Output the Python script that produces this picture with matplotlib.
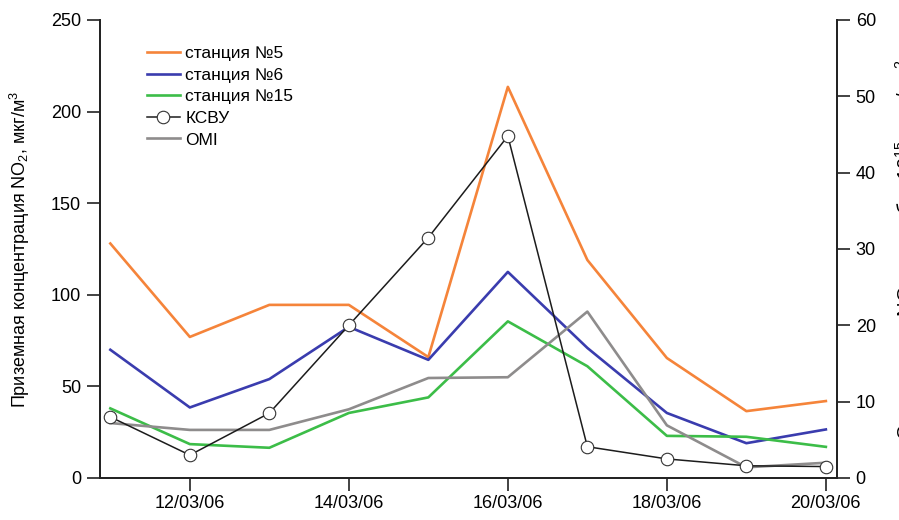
import matplotlib
matplotlib.use('Agg')
import matplotlib.pyplot as plt
from matplotlib.lines import Line2D

plt.rcParams['font.family'] = ['Liberation Sans', 'DejaVu Sans']
plt.rcParams['mathtext.fontset'] = 'custom'
plt.rcParams['mathtext.rm'] = 'Liberation Sans'
plt.rcParams['mathtext.it'] = 'Liberation Sans'

# Дни марта 2006 г.
days = [11, 12, 13, 14, 15, 16, 17, 18, 19, 20]
tick_days = [12, 14, 16, 18, 20]
tick_labels = ['12/03/06', '14/03/06', '16/03/06', '18/03/06', '20/03/06']

# Приземная концентрация NO2 (мкг/м3)
st5 = [128, 77, 94.5, 94.5, 66, 213.5, 119, 65.5, 36.5, 42]
st6 = [70, 38.5, 54, 82.5, 64.5, 112.5, 71, 35.5, 19, 26.5]
st15 = [38, 18.5, 16.5, 35.5, 44, 85.5, 61, 23, 22.5, 17]

# Содержание NO2 в столбе (10^15 мол/см2)
ksvu = [8.0, 3.0, 8.5, 20.0, 31.5, 44.8, 4.1, 2.5, 1.6, 1.5]
omi = [7.2, 6.3, 6.3, 9.0, 13.1, 13.2, 21.8, 6.9, 1.4, 2.0]

c5 = '#f5843a'
c6 = '#3a3cae'
c15 = '#3cbd48'
comi = '#8e8c8c'
cblack = '#1c1c1c'

fig = plt.figure(figsize=(8.99, 5.2), dpi=100)
ax = fig.add_axes([100 / 899, 42 / 520, 737 / 899, 458 / 520])
ax2 = ax.twinx()

ax.plot(days, st5, color=c5, lw=1.9)
ax.plot(days, st6, color=c6, lw=1.9)
ax.plot(days, st15, color=c15, lw=1.9)
ax2.plot(days, omi, color=comi, lw=1.9)
ax2.plot(days, ksvu, color=cblack, lw=1.1, marker='o', ms=9,
         mfc='white', mec='#333333', mew=0.8)

ax.set_xlim(10.87, 20.14)
ax.set_ylim(0, 250)
ax2.set_ylim(0, 60)
ax.set_yticks([0, 50, 100, 150, 200, 250])
ax2.set_yticks([0, 10, 20, 30, 40, 50, 60])
ax.set_xticks(tick_days)
ax.set_xticklabels(tick_labels)

for a in (ax, ax2):
    a.spines['top'].set_visible(False)
    for s in a.spines.values():
        s.set_linewidth(1.3)
        s.set_color('#222222')
ax.tick_params(axis='both', direction='out', length=9.5, width=1.2,
               labelsize=13, color='#222222', pad=4)
ax.tick_params(axis='x', pad=3)
ax2.tick_params(axis='y', direction='out', length=9.5, width=1.2,
                labelsize=13, color='#222222', pad=4)

ax.set_ylabel('Приземная концентрация NO$_2$, мкг/м$^3$', fontsize=13, labelpad=14)

# подпись правой оси уходит за край рисунка
fig.text(893 / 899, 1 - 440 / 520, 'Содержание NO$_2$ в столбе, 10$^{15}$ мол/см$^2$',
         rotation=90, ha='left', va='bottom', fontsize=14.5)

handles = [
    Line2D([], [], color=c5, lw=1.9),
    Line2D([], [], color=c6, lw=1.9),
    Line2D([], [], color=c15, lw=1.9),
    Line2D([], [], color=cblack, lw=1.1, marker='o', ms=9,
           mfc='white', mec='#333333', mew=0.8),
    Line2D([], [], color=comi, lw=1.9),
]
labels = ['станция №5', 'станция №6', 'станция №15', 'КСВУ', 'OMI']
ax2.legend(handles, labels, loc='upper left', bbox_to_anchor=(0.052, 0.962),
           frameon=False, fontsize=12.5, handlelength=1.9, handletextpad=0.3,
           labelspacing=0.37, borderpad=0)

fig.savefig('out.png', dpi=100)
